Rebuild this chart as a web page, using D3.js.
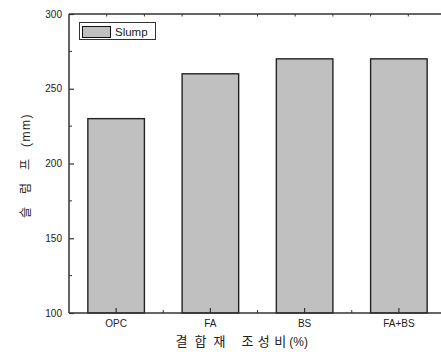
<!DOCTYPE html>
<html>
<head>
<meta charset="utf-8">
<script src="https://cdn.jsdelivr.net/npm/d3@7"></script>
<style>
  html, body { margin: 0; padding: 0; background: #fff; }
  svg { display: block; }
  text { font-family: "Liberation Sans", Arial, sans-serif; fill: #222; }
  .kr { font-family: "Noto Sans CJK KR", sans-serif; }
</style>
</head>
<body>
<svg id="chart" width="441" height="352"></svg>
<script>
// Binder composition vs slump
const categories = ["OPC", "FA", "BS", "FA+BS"];
const slump = [230, 260, 270, 270];
const yTicks = [100, 150, 200, 250, 300];
const seriesName = "Slump";

const plot = { left: 69, right: 446, top: 14, bottom: 313 };

const svg = d3.select("#chart");

const x = d3.scaleBand()
  .domain(categories)
  .range([plot.left, plot.right])
  .paddingInner(0.4)
  .paddingOuter(0.2);

const y = d3.scaleLinear()
  .domain([100, 300])
  .range([plot.bottom, plot.top]);

const axisColor = "#333";

// bars
svg.append("g").selectAll("rect")
  .data(slump)
  .join("rect")
  .attr("x", (d, i) => x(categories[i]))
  .attr("y", d => y(d))
  .attr("width", x.bandwidth())
  .attr("height", d => y(100) - y(d))
  .attr("fill", "#c0c0c0")
  .attr("stroke", "#222")
  .attr("stroke-width", 1.4);

// left axis, ticks pointing inward
const yAxis = d3.axisRight(y)
  .tickValues(yTicks)
  .tickSize(5)
  .tickFormat("");
const gy = svg.append("g").attr("transform", `translate(${plot.left},0)`).call(yAxis);
gy.select(".domain").remove();
gy.selectAll("line").attr("stroke", axisColor).attr("stroke-width", 1.2);

// minor y ticks
const yMinor = d3.range(125, 300, 50);
svg.append("g").selectAll("line").data(yMinor).join("line")
  .attr("x1", plot.left).attr("x2", plot.left + 3)
  .attr("y1", d => y(d)).attr("y2", d => y(d))
  .attr("stroke", axisColor).attr("stroke-width", 1);

// y tick labels
svg.append("g").selectAll("text").data(yTicks).join("text")
  .attr("x", plot.left - 7)
  .attr("y", d => y(d) + 3.5)
  .attr("text-anchor", "end")
  .attr("font-size", 10)
  .text(d => d);

// bottom axis, ticks pointing inward
const xAxis = d3.axisTop(x).tickSize(5).tickFormat("");
const gx = svg.append("g").attr("transform", `translate(0,${plot.bottom})`).call(xAxis);
gx.select(".domain").remove();
gx.selectAll("line").attr("stroke", axisColor).attr("stroke-width", 1.2);

// minor x ticks between categories
const xMinor = categories.slice(1).map(c => x(c) - x.step() * x.paddingInner() / 2);
svg.append("g").selectAll("line").data(xMinor).join("line")
  .attr("x1", d => d).attr("x2", d => d)
  .attr("y1", plot.bottom).attr("y2", plot.bottom - 3)
  .attr("stroke", axisColor).attr("stroke-width", 1);

// category labels
svg.append("g").selectAll("text").data(categories).join("text")
  .attr("x", d => x(d) + x.bandwidth() / 2)
  .attr("y", plot.bottom + 14)
  .attr("text-anchor", "middle")
  .attr("font-size", 10)
  .text(d => d);

// top axis ticks
const xTop = d3.scaleLinear().domain([0, 10]).range([plot.left, plot.right]);
svg.append("g").selectAll("line").data(d3.range(1, 10)).join("line")
  .attr("x1", d => xTop(d)).attr("x2", d => xTop(d))
  .attr("y1", plot.top).attr("y2", plot.top + 2.5)
  .attr("stroke", axisColor).attr("stroke-width", 1);

// frame lines
svg.append("line").attr("x1", plot.left).attr("x2", plot.left)
  .attr("y1", plot.top).attr("y2", plot.bottom)
  .attr("stroke", axisColor).attr("stroke-width", 1.5);
svg.append("line").attr("x1", plot.left).attr("x2", plot.right)
  .attr("y1", plot.bottom).attr("y2", plot.bottom)
  .attr("stroke", axisColor).attr("stroke-width", 1.6);
svg.append("line").attr("x1", plot.left).attr("x2", plot.right)
  .attr("y1", plot.top).attr("y2", plot.top)
  .attr("stroke", axisColor).attr("stroke-width", 1.5);

// legend
const lg = svg.append("g");
lg.append("rect").attr("x", 79.5).attr("y", 22.5).attr("width", 76).attr("height", 17)
  .attr("fill", "#fff").attr("stroke", "#333").attr("stroke-width", 1);
lg.append("rect").attr("x", 82.5).attr("y", 26.5).attr("width", 28).attr("height", 11)
  .attr("fill", "#c0c0c0").attr("stroke", "#111").attr("stroke-width", 1);
lg.append("text").attr("x", 115).attr("y", 35.5).attr("font-size", 11.5).text(seriesName);

// y axis title (reads bottom to top)
const yt = svg.append("text")
  .attr("transform", `translate(30,218) rotate(-90)`)
  .attr("text-anchor", "start");
yt.append("tspan").attr("class", "kr").attr("font-size", 12)
  .attr("letter-spacing", 13).text("슬럼프");
yt.append("tspan").attr("font-size", 12).attr("letter-spacing", 1.5)
  .attr("dx", -1).text("(mm)");

// x axis title
const xt = svg.append("text")
  .attr("x", 175.5).attr("y", 346)
  .attr("text-anchor", "start");
xt.append("tspan").attr("class", "kr").attr("font-size", 13)
  .attr("letter-spacing", 7).text("결합재");
xt.append("tspan").attr("class", "kr").attr("font-size", 13)
  .attr("letter-spacing", 4.5).attr("dx", 9).text("조성비");
xt.append("tspan").attr("font-size", 12).attr("letter-spacing", 0)
  .attr("dx", -1.5).text("(%)");
</script>
</body>
</html>
